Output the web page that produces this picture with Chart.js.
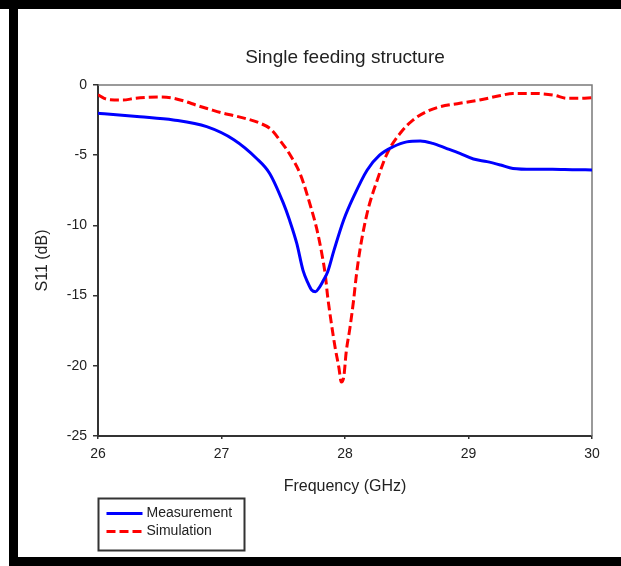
<!DOCTYPE html>
<html>
<head>
<meta charset="utf-8">
<script src="https://cdn.jsdelivr.net/npm/chart.js@4.4.1/dist/chart.umd.min.js"></script>
<style>
  html, body { margin: 0; padding: 0; background: #fff; }
  #wrap { width: 621px; height: 566px; }
</style>
</head>
<body>
<div id="wrap"><canvas id="c" width="621" height="566"></canvas></div>
<script>
// ---- Data ----
const chartTitle = 'Single feeding structure';
const xAxisTitle = 'Frequency (GHz)';
const yAxisTitle = 'S11 (dB)';
const xTickValues = [26, 27, 28, 29, 30];
const yTickValues = [0, -5, -10, -15, -20, -25];

const measLabel = 'Measurement';
const measFreq = [26.00, 26.05, 26.34, 26.61, 26.88, 27.10, 27.28, 27.39, 27.50, 27.55, 27.61, 27.66, 27.70, 27.73, 27.76, 27.79, 27.82, 27.86, 27.91, 27.99, 28.07, 28.18, 28.28, 28.39, 28.50, 28.61, 28.71, 28.82, 28.93, 29.04, 29.15, 29.26, 29.36, 29.52, 29.68, 29.84, 30.00];
const measS11  = [-2.02, -2.05, -2.26, -2.49, -2.97, -3.90, -5.20, -6.30, -8.40, -9.60, -11.3, -13.2, -14.1, -14.6, -14.72, -14.45, -14.0, -13.3, -11.8, -9.6, -7.95, -6.05, -5.00, -4.40, -4.05, -3.99, -4.16, -4.51, -4.87, -5.27, -5.46, -5.70, -5.94, -6.00, -6.00, -6.03, -6.05];

const simLabel = 'Simulation';
const simFreq = [26.00, 26.05, 26.10, 26.20, 26.30, 26.40, 26.50, 26.60, 26.70, 26.80, 26.90, 27.00, 27.10, 27.20, 27.30, 27.40, 27.47, 27.55, 27.64, 27.72, 27.77, 27.81, 27.84, 27.86, 27.89, 27.92, 27.95, 27.97, 27.99, 28.01, 28.04, 28.07, 28.09, 28.12, 28.18, 28.26, 28.34, 28.45, 28.55, 28.66, 28.77, 28.93, 29.09, 29.26, 29.36, 29.52, 29.69, 29.80, 29.90, 30.00];
const simS11  = [-0.70, -0.95, -1.05, -1.07, -0.95, -0.88, -0.85, -0.92, -1.15, -1.45, -1.72, -1.98, -2.18, -2.40, -2.68, -3.15, -3.90, -4.90, -6.40, -8.60, -10.2, -11.9, -13.5, -15.1, -17.0, -18.7, -20.1, -21.15, -20.8, -19.0, -17.3, -15.3, -13.7, -11.8, -9.1, -6.8, -4.9, -3.4, -2.5, -1.9, -1.55, -1.30, -1.07, -0.75, -0.60, -0.60, -0.72, -0.95, -0.95, -0.90];

// ---- Styling ----
const FONT = '"Liberation Sans", Arial, Helvetica, sans-serif';
const TEXT = '#222';
const measColor = '#0000ff';
const simColor = '#ff0000';
const simDash = [9, 4];

const toPoints = (xs, ys) => xs.map((x, i) => ({ x: x, y: ys[i] }));

const framePlugin = {
  id: 'frame',
  beforeDraw(chart) {
    const ctx = chart.ctx;
    ctx.save();
    ctx.fillStyle = '#fff';
    ctx.fillRect(0, 0, chart.width, chart.height);
    ctx.restore();
  },
  beforeDatasetsDraw(chart) {
    const { ctx, chartArea: a } = chart;
    ctx.save();
    ctx.strokeStyle = '#7a7a7a';
    ctx.lineWidth = 1.5;
    ctx.beginPath();
    ctx.moveTo(a.left, a.top);
    ctx.lineTo(a.right, a.top);
    ctx.lineTo(a.right, a.bottom);
    ctx.stroke();
    ctx.restore();
  },
  afterDraw(chart) {
    const { ctx, chartArea: a } = chart;
    const W = chart.width, H = chart.height;
    ctx.save();
    // outer black frame
    ctx.fillStyle = '#000';
    ctx.fillRect(0, 0, W, 9);
    ctx.fillRect(9, 0, 9, H);
    ctx.fillRect(9, H - 9, W - 9, 9);

    // legend box under the plot
    const ds = chart.data.datasets;
    const bx = a.left + 0.5, by = 498.5, bw = 146, bh = 52;
    ctx.strokeStyle = '#333';
    ctx.lineWidth = 2;
    ctx.strokeRect(bx, by, bw, bh);
    const rows = [513.5, 531.5];
    ds.forEach((d, i) => {
      const y = rows[i];
      ctx.beginPath();
      ctx.setLineDash(d.borderDash || []);
      ctx.strokeStyle = d.borderColor;
      ctx.lineWidth = d.borderWidth;
      ctx.moveTo(bx + 8, y);
      ctx.lineTo(bx + 44, y);
      ctx.stroke();
      ctx.setLineDash([]);
      ctx.fillStyle = TEXT;
      ctx.font = '14px ' + FONT;
      ctx.textBaseline = 'middle';
      ctx.textAlign = 'left';
      ctx.fillText(d.label, bx + 48, y);
    });
    ctx.restore();
  }
};

new Chart(document.getElementById('c'), {
  type: 'line',
  data: {
    datasets: [
      {
        label: measLabel,
        data: toPoints(measFreq, measS11),
        borderColor: measColor,
        backgroundColor: measColor,
        borderWidth: 3,
        pointRadius: 0,
        cubicInterpolationMode: 'monotone',
        fill: false
      },
      {
        label: simLabel,
        data: toPoints(simFreq, simS11),
        borderColor: simColor,
        backgroundColor: simColor,
        borderWidth: 3,
        borderDash: simDash,
        pointRadius: 0,
        cubicInterpolationMode: 'monotone',
        fill: false
      }
    ]
  },
  options: {
    responsive: false,
    devicePixelRatio: 1,
    animation: false,
    layout: { padding: { left: 18, top: 9, right: 29, bottom: 68 } },
    plugins: {
      legend: { display: false },
      tooltip: { enabled: false },
      title: {
        display: true,
        fullSize: false,
        text: chartTitle,
        color: TEXT,
        font: { family: FONT, size: 19, weight: 'normal' },
        padding: { top: 37, bottom: 16.2 }
      }
    },
    scales: {
      x: {
        type: 'linear',
        position: 'bottom',
        min: 26,
        max: 30,
        afterBuildTicks: s => { s.ticks = xTickValues.map(v => ({ value: v })); },
        afterFit: s => { s.height = 62; },
        ticks: {
          color: TEXT,
          font: { family: FONT, size: 14 },
          padding: 7,
          maxRotation: 0,
          autoSkip: false
        },
        grid: { drawOnChartArea: false, drawTicks: true, tickLength: 3, color: '#333', lineWidth: 1.5 },
        border: { display: true, color: '#333', width: 2 },
        title: {
          display: true,
          text: xAxisTitle,
          color: TEXT,
          font: { family: FONT, size: 16 },
          padding: { top: 0, bottom: 1.4 }
        }
      },
      y: {
        type: 'linear',
        position: 'left',
        min: -25,
        max: 0,
        afterBuildTicks: s => { s.ticks = yTickValues.map(v => ({ value: v })); },
        afterFit: s => { s.width = 80; },
        ticks: {
          color: TEXT,
          font: { family: FONT, size: 14 },
          padding: 6,
          autoSkip: false
        },
        grid: { drawOnChartArea: false, drawTicks: true, tickLength: 5, color: '#333', lineWidth: 1.5 },
        border: { display: true, color: '#333', width: 2 },
        title: {
          display: true,
          text: yAxisTitle,
          color: TEXT,
          font: { family: FONT, size: 16 },
          padding: { top: 15.4, bottom: 0 }
        }
      }
    }
  },
  plugins: [framePlugin]
});
</script>
</body>
</html>
